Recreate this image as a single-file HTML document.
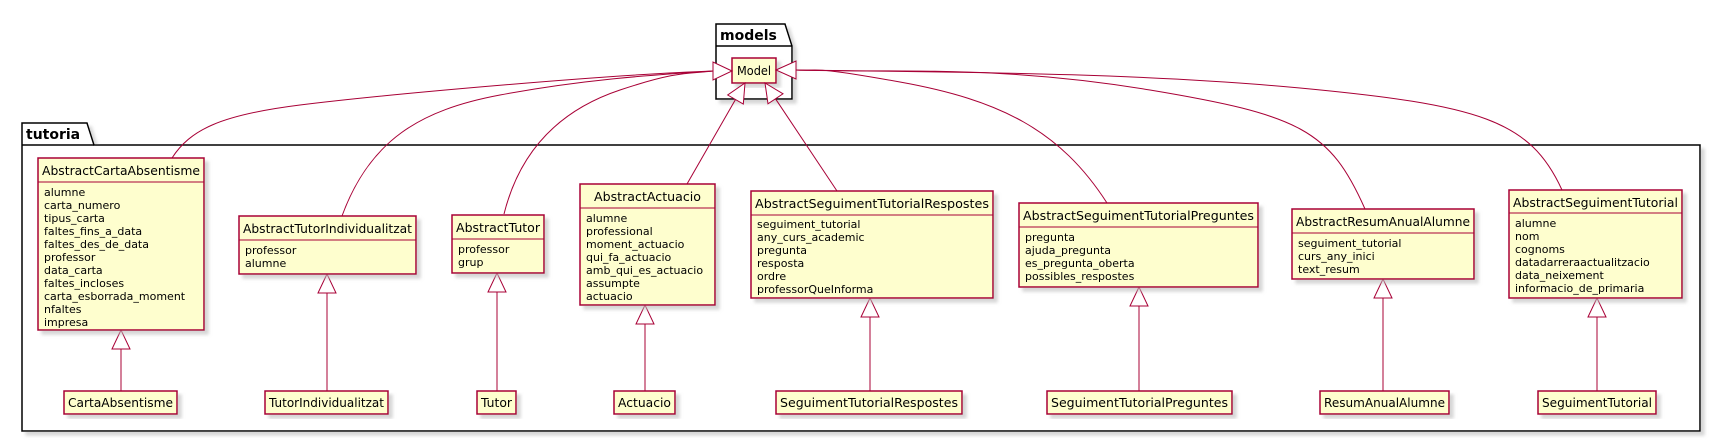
<!DOCTYPE html>
<html><head><meta charset="utf-8"><style>
html,body{margin:0;padding:0;background:#fff;}
svg{display:block;}
.n{font-family:"DejaVu Sans","Liberation Sans",sans-serif;font-size:12px;fill:#000;}
.a{font-family:"DejaVu Sans","Liberation Sans",sans-serif;font-size:11px;fill:#000;}
.p{font-family:"DejaVu Sans","Liberation Sans",sans-serif;font-size:14px;font-weight:bold;fill:#000;}
.c{fill:#FEFECE;stroke:#A80036;stroke-width:1.5;}
.l{fill:none;stroke:#A80036;stroke-width:1;}
.t{fill:#fff;stroke:#A80036;stroke-width:1;}
</style></head><body>
<svg width="1721" height="442" viewBox="0 0 1721 442" xmlns="http://www.w3.org/2000/svg">
<defs><filter id="s" x="-10%" y="-10%" width="130%" height="130%"><feGaussianBlur in="SourceAlpha" stdDeviation="1.5"/><feOffset dx="4" dy="4"/><feColorMatrix type="matrix" values="0 0 0 0 0.5 0 0 0 0 0.5 0 0 0 0 0.5 0 0 0 0.6 0"/><feMerge><feMergeNode/><feMergeNode in="SourceGraphic"/></feMerge></filter></defs>

<!-- models package -->
<g filter="url(#s)"><path d="M716,24 L785,24 L792,46 L792,99 L716,99 Z" fill="#fff" stroke="#000" stroke-width="1.5"/></g>
<line x1="716" y1="46" x2="792" y2="46" stroke="#000" stroke-width="1.5"/>
<text class="p" x="720" y="40">models</text>

<!-- tutoria package -->
<g filter="url(#s)"><path d="M22,123 L87,123 L94,145 L1700,145 L1700,431 L22,431 Z" fill="#fff" stroke="#000" stroke-width="1.5"/></g>
<line x1="22" y1="145" x2="94" y2="145" stroke="#000" stroke-width="1.5"/>
<text class="p" x="26" y="139">tutoria</text>

<!-- Model -->
<rect class="c" x="732" y="58" width="44" height="25" filter="url(#s)"/>
<text class="n" x="737" y="75" textLength="34" lengthAdjust="spacingAndGlyphs">Model</text>

<!-- connectors to Model -->
<path class="l" d="M172,158 C190,130 220,115 300,105 S600,75 713,71"/>
<path class="l" d="M342,216 C370,140 420,110 500,95 S650,75 713,71"/>
<path class="l" d="M504,214 C520,150 560,110 620,90 S690,74 713,71"/>
<path class="l" d="M1107,203 C1060,130 1000,100 900,82 S820,72 796,70"/>
<path class="l" d="M1365,209 C1330,130 1300,115 1150,90 S900,73 796,70"/>
<path class="l" d="M1562,190 C1530,120 1480,105 1300,88 S900,72 796,70"/>
<line class="l" x1="687" y1="184" x2="735.5" y2="99.5"/>
<line class="l" x1="837" y1="191" x2="775.5" y2="98.8"/>
<polygon class="t" points="732,71 713,62 713,80"/>
<polygon class="t" points="776,70 796,61 796,79"/>
<polygon class="t" points="745,83 743.3,104 727.7,95"/>
<polygon class="t" points="765,83 783,93.8 768,103.8"/>

<!-- inheritance lines -->
<g>
<line class="l" x1="121" y1="349" x2="121" y2="391"/><polygon class="t" points="121,330 112,349 130,349"/>
<line class="l" x1="327" y1="293" x2="327" y2="391"/><polygon class="t" points="327,274 318,293 336,293"/>
<line class="l" x1="497" y1="292" x2="497" y2="391"/><polygon class="t" points="497,273 488,292 506,292"/>
<line class="l" x1="645" y1="324" x2="645" y2="391"/><polygon class="t" points="645,305 636,324 654,324"/>
<line class="l" x1="870" y1="317" x2="870" y2="391"/><polygon class="t" points="870,298 861,317 879,317"/>
<line class="l" x1="1139" y1="306" x2="1139" y2="391"/><polygon class="t" points="1139,287 1130,306 1148,306"/>
<line class="l" x1="1383" y1="298" x2="1383" y2="391"/><polygon class="t" points="1383,279 1374,298 1392,298"/>
<line class="l" x1="1597" y1="317" x2="1597" y2="391"/><polygon class="t" points="1597,298 1588,317 1606,317"/>
</g>

<!-- Abstract classes -->
<g>
<rect class="c" x="38" y="158" width="166" height="172" filter="url(#s)"/>
<line class="l" stroke-width="1.5" x1="38" y1="182" x2="204" y2="182"/>
<text class="n" x="42" y="175" textLength="158" lengthAdjust="spacingAndGlyphs">AbstractCartaAbsentisme</text>
<text class="a" x="44"><tspan x="44" y="196">alumne</tspan><tspan x="44" y="209">carta_numero</tspan><tspan x="44" y="222">tipus_carta</tspan><tspan x="44" y="235">faltes_fins_a_data</tspan><tspan x="44" y="248">faltes_des_de_data</tspan><tspan x="44" y="261">professor</tspan><tspan x="44" y="274">data_carta</tspan><tspan x="44" y="287">faltes_incloses</tspan><tspan x="44" y="300">carta_esborrada_moment</tspan><tspan x="44" y="313">nfaltes</tspan><tspan x="44" y="326">impresa</tspan></text>

<rect class="c" x="239" y="216" width="177" height="58" filter="url(#s)"/>
<line class="l" stroke-width="1.5" x1="239" y1="240" x2="416" y2="240"/>
<text class="n" x="243" y="233" textLength="169" lengthAdjust="spacingAndGlyphs">AbstractTutorIndividualitzat</text>
<text class="a"><tspan x="245" y="254">professor</tspan><tspan x="245" y="267">alumne</tspan></text>

<rect class="c" x="452" y="215" width="92" height="58" filter="url(#s)"/>
<line class="l" stroke-width="1.5" x1="452" y1="239" x2="544" y2="239"/>
<text class="n" x="456" y="232" textLength="84" lengthAdjust="spacingAndGlyphs">AbstractTutor</text>
<text class="a"><tspan x="458" y="253">professor</tspan><tspan x="458" y="266">grup</tspan></text>

<rect class="c" x="580" y="184" width="135" height="121" filter="url(#s)"/>
<line class="l" stroke-width="1.5" x1="580" y1="208" x2="715" y2="208"/>
<text class="n" x="594" y="201" textLength="107" lengthAdjust="spacingAndGlyphs">AbstractActuacio</text>
<text class="a"><tspan x="586" y="222">alumne</tspan><tspan x="586" y="235">professional</tspan><tspan x="586" y="248">moment_actuacio</tspan><tspan x="586" y="261">qui_fa_actuacio</tspan><tspan x="586" y="274">amb_qui_es_actuacio</tspan><tspan x="586" y="287">assumpte</tspan><tspan x="586" y="300">actuacio</tspan></text>

<rect class="c" x="751" y="191" width="242" height="107" filter="url(#s)"/>
<line class="l" stroke-width="1.5" x1="751" y1="215" x2="993" y2="215"/>
<text class="n" x="755" y="208" textLength="234" lengthAdjust="spacingAndGlyphs">AbstractSeguimentTutorialRespostes</text>
<text class="a"><tspan x="757" y="228">seguiment_tutorial</tspan><tspan x="757" y="241">any_curs_academic</tspan><tspan x="757" y="254">pregunta</tspan><tspan x="757" y="267">resposta</tspan><tspan x="757" y="280">ordre</tspan><tspan x="757" y="293">professorQueInforma</tspan></text>

<rect class="c" x="1019" y="203" width="239" height="84" filter="url(#s)"/>
<line class="l" stroke-width="1.5" x1="1019" y1="227" x2="1258" y2="227"/>
<text class="n" x="1023" y="220" textLength="231" lengthAdjust="spacingAndGlyphs">AbstractSeguimentTutorialPreguntes</text>
<text class="a"><tspan x="1025" y="241">pregunta</tspan><tspan x="1025" y="254">ajuda_pregunta</tspan><tspan x="1025" y="267">es_pregunta_oberta</tspan><tspan x="1025" y="280">possibles_respostes</tspan></text>

<rect class="c" x="1292" y="209" width="182" height="70" filter="url(#s)"/>
<line class="l" stroke-width="1.5" x1="1292" y1="233" x2="1474" y2="233"/>
<text class="n" x="1296" y="226" textLength="174" lengthAdjust="spacingAndGlyphs">AbstractResumAnualAlumne</text>
<text class="a"><tspan x="1298" y="247">seguiment_tutorial</tspan><tspan x="1298" y="260">curs_any_inici</tspan><tspan x="1298" y="273">text_resum</tspan></text>

<rect class="c" x="1509" y="190" width="173" height="108" filter="url(#s)"/>
<line class="l" stroke-width="1.5" x1="1509" y1="213" x2="1682" y2="213"/>
<text class="n" x="1513" y="207" textLength="165" lengthAdjust="spacingAndGlyphs">AbstractSeguimentTutorial</text>
<text class="a"><tspan x="1515" y="227">alumne</tspan><tspan x="1515" y="240">nom</tspan><tspan x="1515" y="253">cognoms</tspan><tspan x="1515" y="266">datadarreraactualitzacio</tspan><tspan x="1515" y="279">data_neixement</tspan><tspan x="1515" y="292">informacio_de_primaria</tspan></text>
</g>

<!-- derived classes -->
<g>
<rect class="c" x="64" y="391" width="113" height="23" filter="url(#s)"/>
<text class="n" x="68" y="407" textLength="105" lengthAdjust="spacingAndGlyphs">CartaAbsentisme</text>
<rect class="c" x="265" y="391" width="123" height="23" filter="url(#s)"/>
<text class="n" x="269" y="407" textLength="115" lengthAdjust="spacingAndGlyphs">TutorIndividualitzat</text>
<rect class="c" x="477" y="391" width="39" height="23" filter="url(#s)"/>
<text class="n" x="481" y="407" textLength="31" lengthAdjust="spacingAndGlyphs">Tutor</text>
<rect class="c" x="614" y="391" width="61" height="23" filter="url(#s)"/>
<text class="n" x="618" y="407" textLength="53" lengthAdjust="spacingAndGlyphs">Actuacio</text>
<rect class="c" x="776" y="391" width="186" height="23" filter="url(#s)"/>
<text class="n" x="780" y="407" textLength="178" lengthAdjust="spacingAndGlyphs">SeguimentTutorialRespostes</text>
<rect class="c" x="1047" y="391" width="185" height="23" filter="url(#s)"/>
<text class="n" x="1051" y="407" textLength="177" lengthAdjust="spacingAndGlyphs">SeguimentTutorialPreguntes</text>
<rect class="c" x="1320" y="391" width="129" height="23" filter="url(#s)"/>
<text class="n" x="1324" y="407" textLength="121" lengthAdjust="spacingAndGlyphs">ResumAnualAlumne</text>
<rect class="c" x="1538" y="391" width="118" height="23" filter="url(#s)"/>
<text class="n" x="1542" y="407" textLength="110" lengthAdjust="spacingAndGlyphs">SeguimentTutorial</text>
</g>
</svg>
</body></html>
